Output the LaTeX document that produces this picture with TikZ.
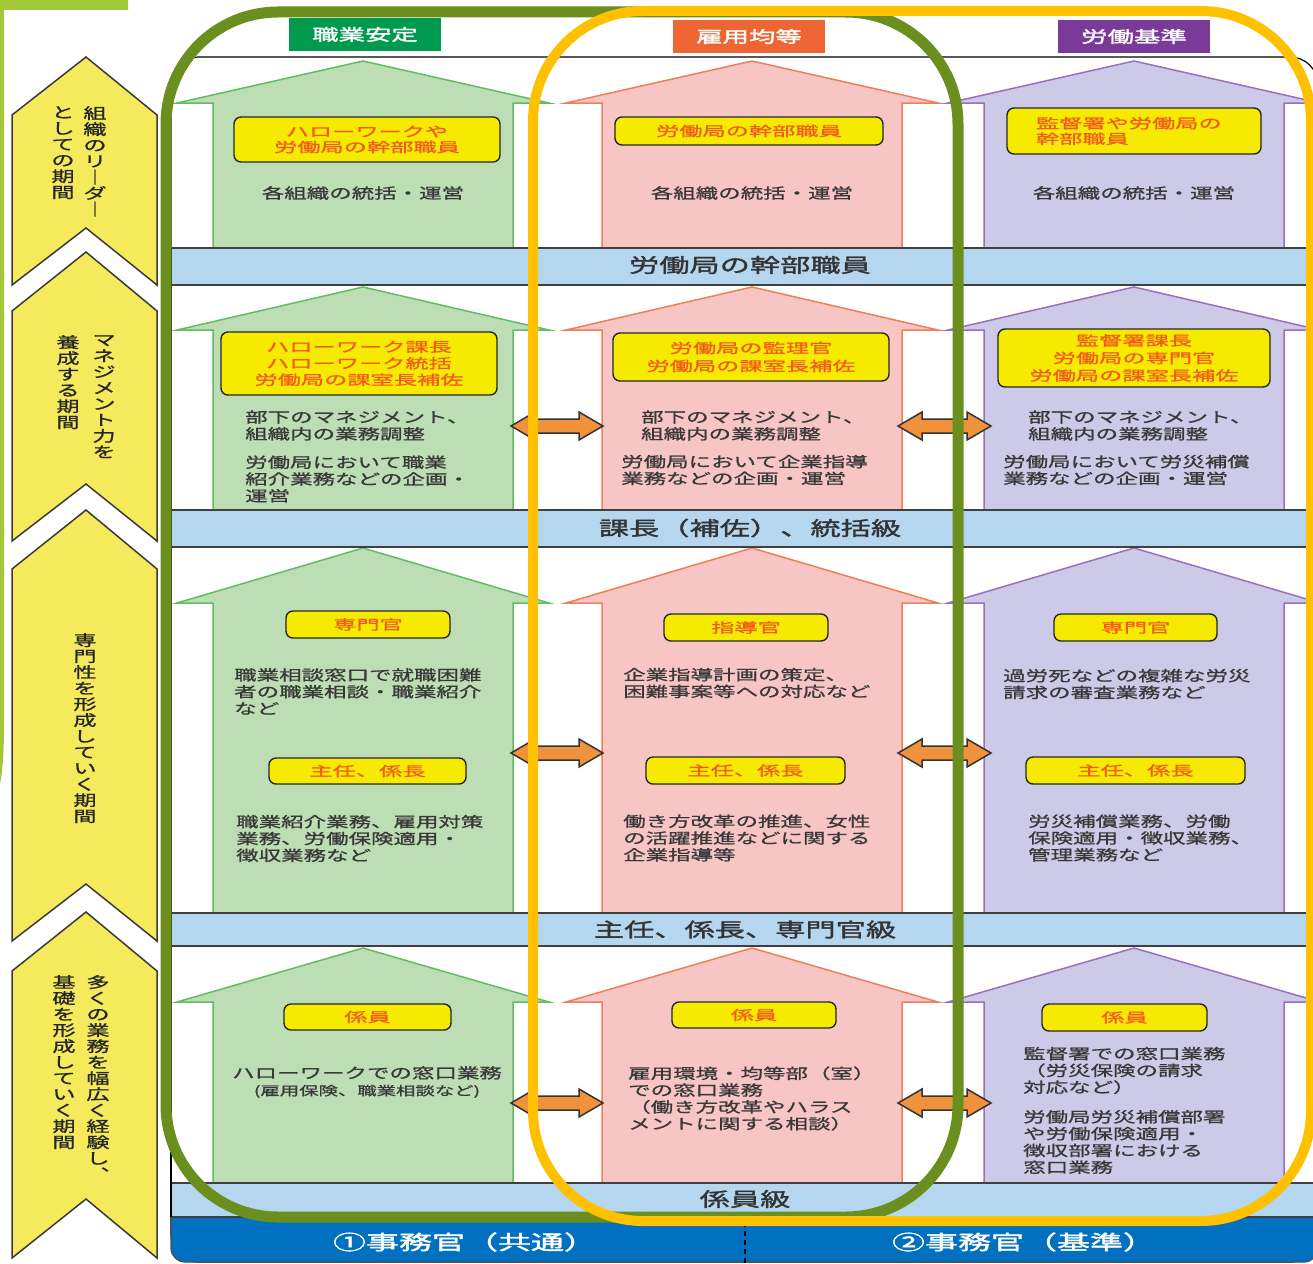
\documentclass[tikz,border=0pt]{standalone}
\usepackage{fontspec}
\usepackage{graphicx}
\newfontfamily\jp[FakeStretch=1.55,FakeBold=1]{Noto Sans CJK JP}
\newfontfamily\jpbar[FakeStretch=1.55,FakeBold=1.6]{Noto Sans CJK JP}
\newfontfamily\jpl[FakeStretch=1.72,FakeBold=1]{Noto Sans CJK JP}
\newfontfamily\jpb[FakeStretch=1.65,FakeBold=2]{Noto Sans CJK JP}
\definecolor{topgreen}{HTML}{A3C83A}
\definecolor{chevfill}{HTML}{F5EA5C}
\definecolor{chevline}{HTML}{3A3A3A}
\definecolor{barblue}{HTML}{B4D6EE}
\definecolor{barline}{HTML}{404040}
\definecolor{darkblue}{HTML}{0070C0}
\definecolor{hgreen}{HTML}{009A4E}
\definecolor{horange}{HTML}{EE6634}
\definecolor{hpurple}{HTML}{7A3A97}
\definecolor{agfill}{HTML}{BDDDB4}
\definecolor{agline}{HTML}{62BD62}
\definecolor{apfill}{HTML}{F7C6C4}
\definecolor{apline}{HTML}{F07E58}
\definecolor{aufill}{HTML}{CCCAE6}
\definecolor{auline}{HTML}{9B6FC0}
\definecolor{labfill}{HTML}{F5EA00}
\definecolor{labtext}{HTML}{F25A1E}
\definecolor{bodytext}{HTML}{383838}
\definecolor{arrorange}{HTML}{F0913C}
\definecolor{olive}{HTML}{6A8F1E}
\definecolor{frameyellow}{HTML}{FFC000}
\newcommand\bigarr[6]{%
  \filldraw[fill=#5, draw=#6, line width=1.5pt, line join=miter]
    (#1,#2) -- ({#1+186},#3) -- ({#1+150},#3) -- ({#1+150},#4) -- ({#1-150},#4)
    -- ({#1-150},#3) -- ({#1-186},#3) -- cycle;}
\newcommand\dblarr[3]{%
  \filldraw[fill=arrorange, draw=black!80, line width=1.5pt, line join=miter]
    (#1,#3) -- ({#1+24},{#3-14}) -- ({#1+24},{#3-7}) -- ({#2-24},{#3-7})
    -- ({#2-24},{#3-14}) -- (#2,#3) -- ({#2-24},{#3+14}) -- ({#2-24},{#3+7})
    -- ({#1+24},{#3+7}) -- ({#1+24},{#3+14}) -- cycle;}
\tikzset{
  chev/.style={fill=chevfill, draw=chevline, line width=1.5pt, line join=miter},
  vtext/.style={font=\jp\fontsize{15pt}{16pt}\selectfont, text=black!85, inner sep=0pt, align=center, anchor=north},
  body/.style={font=\jp\fontsize{14.5pt}{16.8pt}\selectfont, text=bodytext, inner sep=0pt, align=left, anchor=west},
  bodyc/.style={font=\jp\fontsize{14.5pt}{17pt}\selectfont, text=bodytext, inner sep=0pt, align=center},
  lab/.style={draw=black!85, line width=1.4pt, fill=labfill, rounded corners=7pt, text=labtext,
    font=\jpl\fontsize{13.5pt}{16.5pt}\selectfont, inner sep=0pt, align=center},
  head/.style={text=white, font=\jpb\fontsize{16pt}{18pt}\selectfont, inner sep=0pt, minimum width=152pt, minimum height=33pt},
  bartext/.style={text=black!80, font=\jpbar\fontsize{19.5pt}{22pt}\selectfont, inner sep=0pt},
  bottext/.style={text=white, font=\jpb\fontsize{20pt}{22pt}\selectfont, inner sep=0pt},
  barrule/.style={draw=barline, line width=1.6pt},
}
\begin{document}
\begin{tikzpicture}[x=1pt,y=-1pt]
\useasboundingbox (0,0) rectangle (1313,1263);
\fill[white] (0,0) rectangle (1313,1263);
\clip (0,0) rectangle (1313,1263);

% top-left light green fragment
\draw[topgreen, line width=10pt] (128,5) -- (-1,5) -- (-1,720) .. controls (-1,755) and (-2,775) .. (-8,795);

% chevrons
\draw[chev] (86,57) -- (157,115) -- (157,285) -- (86,228) -- (12,285) -- (12,115) -- cycle;
\draw[chev] (86,252) -- (157,311) -- (157,541) -- (86,484) -- (12,541) -- (12,311) -- cycle;
\draw[chev] (86,510) -- (157,569) -- (157,941) -- (86,884) -- (12,941) -- (12,569) -- cycle;
\draw[chev] (86,912) -- (157,971) -- (157,1258) -- (86,1199) -- (12,1258) -- (12,971) -- cycle;

\node[vtext] (c1r) at (95,106) {組\\織\\の\\リ\\｜\\ダ\\｜};
\node[vtext] (c1l) at (63,106) {と\\し\\て\\の\\期\\間};
\node[vtext] (c2r) at (104,335) {マ\\ネ\\ジ\\メ\\ン\\ト\\力\\を};
\node[vtext] (c2l) at (68,335) {養\\成\\す\\る\\期\\間};
\node[vtext] (c3) at (85,633) {専\\門\\性\\を\\形\\成\\し\\て\\い\\く\\期\\間};
\node[vtext] (c4r) at (98,975) {多\\く\\の\\業\\務\\を\\幅\\広\\く\\経\\験\\し\\︑};
\node[vtext] (c4l) at (64,975) {基\\礎\\を\\形\\成\\し\\て\\い\\く\\期\\間};

% main panel
\filldraw[fill=white, draw=black, line width=1.2pt, rounded corners=28pt] (171,57) rectangle (1318,1262);

% headers
\node[head, fill=hgreen] (hg) at (365,34.5) {職業安定};
\node[head, fill=horange] (hp) at (749,36.5) {雇用均等};
\node[head, fill=hpurple] (hu) at (1134,36.5) {労働基準};

% big arrows
\foreach \ap/\ba/\bo in {61/103/249, 287/330/511, 548/603/914, 948/1002/1184}{
  \bigarr{363}{\ap}{\ba}{\bo}{agfill}{agline}
  \bigarr{752}{\ap}{\ba}{\bo}{apfill}{apline}
  \bigarr{1134}{\ap}{\ba}{\bo}{aufill}{auline}
}

% bottom dark blue bar
\filldraw[fill=darkblue, draw=black!70, line width=1.2pt, rounded corners=14pt] (171,1190) rectangle (1318,1262);

% level bars
\foreach \ya/\yb in {248/285, 510/547, 913/946, 1183/1217}{
  \fill[barblue] (171,\ya) rectangle (1318,\yb);
  \draw[barrule] (171,\ya) -- (1318,\ya);
  \draw[barrule] (171,\yb) -- (1318,\yb);
}
\draw[black, line width=1.2pt] (171,248) -- (171,1217);

\node[bartext] (b1) at (750,265) {労働局の幹部職員};
\node[bartext] (b2) at (750,528) {課長（補佐）、統括級};
\node[bartext] (b3) at (745,929.5) {主任、係長、専門官級};
\node[bartext] (b4) at (745,1199) {係員級};

\draw[black, line width=1.6pt, dash pattern=on 5pt off 4pt] (745,1222) -- (745,1263);
\node[bottext] (t1) at (465,1242) {①事務官（共通）};
\node[bottext] (t2) at (1024,1242) {②事務官（基準）};

% row 1
\node[lab, minimum width=266pt, minimum height=45pt, font=\jpl\fontsize{13.5pt}{15.5pt}\selectfont] (l1g) at (367,139.5) {ハローワークや\\労働局の幹部職員};
\node[lab, minimum width=268pt, minimum height=28pt] (l1p) at (749,131) {労働局の幹部職員};
\node[lab, minimum width=254pt, minimum height=46pt, align=left, text width=196pt, font=\jpl\fontsize{13.5pt}{15.5pt}\selectfont] (l1u) at (1134,131) {監督署や労働局の\\幹部職員};
\node[bodyc] (d1g) at (363,193) {各組織の統括・運営};
\node[bodyc] (d1p) at (752,193) {各組織の統括・運営};
\node[bodyc] (d1u) at (1134,193) {各組織の統括・運営};

% row 2
\node[lab, minimum width=276pt, minimum height=63pt] (l2g) at (359,363.5) {ハローワーク課長\\ハローワーク統括\\労働局の課室長補佐};
\node[lab, minimum width=276pt, minimum height=48pt, font=\jpl\fontsize{13.5pt}{18pt}\selectfont] (l2p) at (751,357) {労働局の監理官\\労働局の課室長補佐};
\node[lab, minimum width=272pt, minimum height=58pt, font=\jpl\fontsize{13.5pt}{17.5pt}\selectfont] (l2u) at (1134,358) {監督署課長\\労働局の専門官\\労働局の課室長補佐};
\node[body] (d2ga) at (245,425.5) {部下のマネジメント、\\組織内の業務調整};
\node[body] (d2gb) at (245,479) {労働局において職業\\紹介業務などの企画・\\運営};
\node[body] (d2pa) at (641,425.5) {部下のマネジメント、\\組織内の業務調整};
\node[body] (d2pb) at (621,470) {労働局において企業指導\\業務などの企画・運営};
\node[body] (d2ua) at (1028,425.5) {部下のマネジメント、\\組織内の業務調整};
\node[body] (d2ub) at (1003,470) {労働局において労災補償\\業務などの企画・運営};

% row 3
\node[lab, minimum width=164pt, minimum height=27pt] (l3g1) at (368,624.5) {専門官};
\node[lab, minimum width=197pt, minimum height=26pt] (l3g2) at (367.5,771) {主任、係長};
\node[lab, minimum width=164pt, minimum height=27pt] (l3p1) at (746,627.5) {指導官};
\node[lab, minimum width=199pt, minimum height=27pt] (l3p2) at (745.5,770.5) {主任、係長};
\node[lab, minimum width=163pt, minimum height=27pt] (l3u1) at (1135.5,627.5) {専門官};
\node[lab, minimum width=219pt, minimum height=27pt] (l3u2) at (1135.5,770.5) {主任、係長};
\node[body] (d3ga) at (234,691.5) {職業相談窓口で就職困難\\者の職業相談・職業紹介\\など};
\node[body] (d3gb) at (236,838.5) {職業紹介業務、雇用対策\\業務、労働保険適用・\\徴収業務など};
\node[body] (d3pa) at (623,683) {企業指導計画の策定、\\困難事案等への対応など};
\node[body] (d3pb) at (623,838) {働き方改革の推進、女性\\の活躍推進などに関する\\企業指導等};
\node[body] (d3ua) at (1003,684) {過労死などの複雑な労災\\請求の審査業務など};
\node[body] (d3ub) at (1028,838) {労災補償業務、労働\\保険適用・徴収業務、\\管理業務など};

% row 4
\node[lab, minimum width=167pt, minimum height=26pt] (l4g) at (367.5,1017) {係員};
\node[lab, minimum width=164pt, minimum height=26pt] (l4p) at (754,1015) {係員};
\node[lab, minimum width=165pt, minimum height=27pt] (l4u) at (1124.5,1017.5) {係員};
\node[bodyc] (d4g) at (367,1082) {ハローワークでの窓口業務\\{\fontsize{12.5pt}{15pt}\selectfont (雇用保険、職業相談など)}};
\node[body] (d4p) at (628,1098.5) {雇用環境・均等部（室）\\での窓口業務\\（働き方改革やハラス\\メントに関する相談）};
\node[body] (d4ua) at (1023,1070.5) {監督署での窓口業務\\（労災保険の請求\\対応など）};
\node[body] (d4ub) at (1023,1142) {労働局労災補償部署\\や労働保険適用・\\徴収部署における\\窓口業務};

% double arrows between columns
\foreach \yy in {426, 753, 1103}{
  \dblarr{511}{603}{\yy}
  \dblarr{898}{991}{\yy}
}

% frames
\draw[olive, line width=11pt, rounded corners=112pt] (166,12) rectangle (958,1217);
\draw[frameyellow, line width=10pt, rounded corners=110pt] (533,11) rectangle (1311,1221);
\end{tikzpicture}
\end{document}
